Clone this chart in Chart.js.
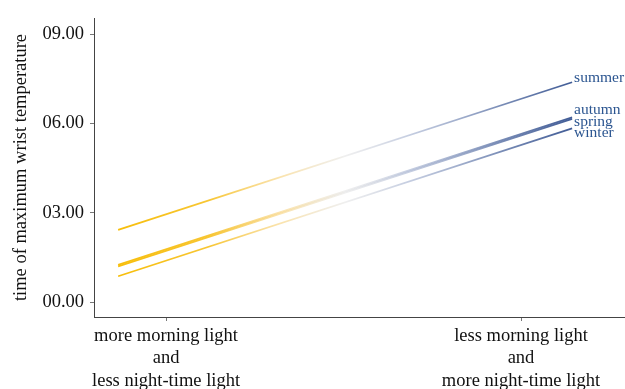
<!DOCTYPE HTML>
<html>
<head>
    <meta charset="utf-8" />
    <title>Time of maximum wrist temperature by season</title>
    <script src="https://cdn.jsdelivr.net/npm/chart.js@4.4.0/dist/chart.umd.min.js"></script>
    <style type="text/css">
        html, body { margin: 0; padding: 0; background: #fff; }
        #chartSeasons { display: block; }
    </style>
</head>
<body>
    <canvas id="chartSeasons" width="625" height="389"></canvas>

    <script>
        // data
        var seasons = ['summer', 'autumn', 'spring', 'winter'];
        var lineX = [-0.135, 1.144];            // x of the two ends of every line
        var startValues = [2.43, 1.25, 1.20, 0.87];
        var endValues = [7.39, 6.21, 6.16, 5.84];
        var yTicks = [0, 3, 6, 9];
        var xTicks = [0, 1];
        var xTickLabels = [
            ['more morning light', 'and', 'less night-time light'],
            ['less morning light', 'and', 'more night-time light']
        ];

        // label nudges so the season names do not overlap
        var labelDy = [-4, -7, 3, 5];

        Chart.defaults.font.family = '"Liberation Serif", "DejaVu Serif", serif';
        Chart.defaults.color = '#111';

        function pad(v) {
            var s = String(Math.floor(v));
            if (s.length < 2) s = '0' + s;
            return s + '.00';
        }

        function lineGradient(context) {
            var chart = context.chart;
            if (!chart.chartArea) return '#e5b800';
            var xs = chart.scales.x;
            var x0 = xs.getPixelForValue(lineX[0]);
            var x1 = xs.getPixelForValue(lineX[1]);
            var g = chart.ctx.createLinearGradient(x0, 0, x1, 0);
            g.addColorStop(0, 'rgba(247,190,10,1)');
            g.addColorStop(0.2, 'rgba(247,192,30,0.9)');
            g.addColorStop(0.36, 'rgba(245,200,95,0.5)');
            g.addColorStop(0.5, 'rgba(220,220,220,0.45)');
            g.addColorStop(0.64, 'rgba(150,165,200,0.55)');
            g.addColorStop(0.85, 'rgba(95,118,168,0.85)');
            g.addColorStop(1, 'rgba(65,92,150,1)');
            return g;
        }

        var datasets = [];
        for (var i = 0; i < seasons.length; i++) {
            datasets.push({
                label: seasons[i],
                data: [{ x: lineX[0], y: startValues[i] }, { x: lineX[1], y: endValues[i] }],
                borderColor: lineGradient,
                borderWidth: 1.8,
                pointRadius: 0,
                fill: false,
                tension: 0
            });
        }

        var seasonLabels = {
            id: 'seasonLabels',
            afterDatasetsDraw: function (chart) {
                var ctx = chart.ctx;
                ctx.save();
                ctx.font = '15.5px "Liberation Serif", serif';
                ctx.fillStyle = '#2b5590';
                ctx.textAlign = 'left';
                ctx.textBaseline = 'middle';
                chart.data.datasets.forEach(function (ds, i) {
                    var pts = chart.getDatasetMeta(i).data;
                    var p = pts[pts.length - 1];
                    ctx.fillText(ds.label, p.x + 2, p.y + labelDy[i]);
                });
                ctx.restore();
            }
        };

        const ctx = document.getElementById('chartSeasons').getContext('2d');
        const myChart = new Chart(ctx, {
            type: 'line',
            data: { datasets: datasets },
            plugins: [seasonLabels],
            options: {
                responsive: false,
                animation: false,
                devicePixelRatio: 1,
                layout: { padding: { top: 18, right: 0, left: 0, bottom: 0 } },
                plugins: {
                    legend: { display: false },
                    tooltip: { enabled: false }
                },
                scales: {
                    x: {
                        type: 'linear',
                        min: -0.203,
                        max: 1.293,
                        afterBuildTicks: function (scale) {
                            scale.ticks = xTicks.map(function (v) { return { value: v }; });
                        },
                        afterFit: function (scale) { scale.height = 72; },
                        grid: { drawOnChartArea: false, drawTicks: true, tickLength: 4, color: '#777' },
                        border: { display: true, color: '#444', width: 1 },
                        ticks: {
                            padding: 4,
                            maxRotation: 0,
                            font: { size: 18.5, lineHeight: 1.21 },
                            callback: function (v, idx) { return xTickLabels[idx]; }
                        }
                    },
                    y: {
                        min: -0.5,
                        max: 9.55,
                        afterBuildTicks: function (scale) {
                            scale.ticks = yTicks.map(function (v) { return { value: v }; });
                        },
                        afterFit: function (scale) { scale.width = 94; },
                        grid: { drawOnChartArea: false, drawTicks: true, tickLength: 4, color: '#777' },
                        border: { display: true, color: '#444', width: 1 },
                        ticks: {
                            padding: 6,
                            font: { size: 18.5 },
                            callback: function (v) { return pad(v); }
                        },
                        title: {
                            display: true,
                            text: 'time of maximum wrist temperature',
                            font: { size: 18.5 },
                            padding: { top: 10, bottom: 4 }
                        }
                    }
                }
            }
        });
    </script>
</body>
</html>
